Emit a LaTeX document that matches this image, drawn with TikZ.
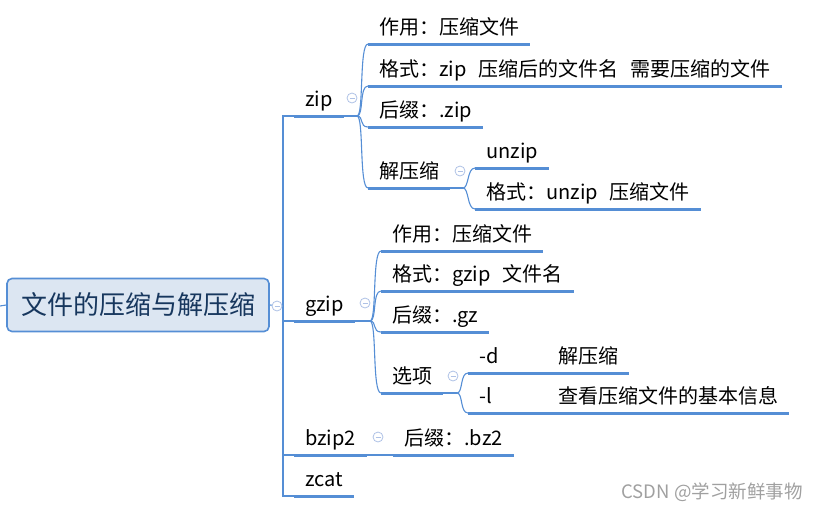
\documentclass[tikz,border=0pt]{standalone}
\usepackage{fontspec}
\setmainfont{Noto Sans CJK SC}
\definecolor{linec}{HTML}{558ED5}
\definecolor{rootfill}{HTML}{DCE6F2}
\definecolor{roottext}{HTML}{17375E}
\definecolor{foldc}{HTML}{AFC2E6}
\definecolor{markc}{HTML}{A0A0A0}

\begin{document}
\begin{tikzpicture}[x=1pt,y=-1pt]

\tikzstyle{topic}=[anchor=south west,inner xsep=11pt,inner ysep=3pt,text height=15pt,text depth=6pt,font=\fontsize{20}{24}\selectfont]
\tikzstyle{root}=[rectangle,rounded corners=5pt,draw=linec,line width=1.6pt,fill=rootfill,text=roottext,minimum width=262pt,minimum height=53pt,font=\fontsize{26}{30}\selectfont]
\tikzstyle{link}=[linec,line width=1.1pt]
\tikzstyle{uline}=[linec,line width=3pt]
\tikzstyle{fold}=[circle,draw=foldc,fill=white,line width=0.8pt,minimum size=10pt,inner sep=0pt,
  path picture={\draw[foldc,line width=0.8pt] ([xshift=-2.5pt]path picture bounding box.center) -- ([xshift=2.5pt]path picture bounding box.center);}]
\tikzstyle{wmark}=[text=markc,font=\fontsize{18.5}{22}\selectfont]

\useasboundingbox (0,0) rectangle (822,512);

% root
\node[root] (root) at (138,305) {文件的压缩与解压缩} ;

% first level
\node[topic] (zip)    at (294,116) {zip} ;
\node[topic] (gzip)   at (294,321) {gzip} ;
\node[topic] (bzipii) at (294,455) {bzip2} ;
\node[topic] (zcat)   at (294,496) {zcat} ;

% zip
\node[topic] (zipuse)   at (368, 44) {作用：压缩文件} ;
\node[topic] (zipfmt)   at (368, 86) {格式：zip\hspace{0.6em}压缩后的文件名\hspace{0.6em}需要压缩的文件} ;
\node[topic] (zipsuf)   at (368,127) {后缀：.zip} ;
\node[topic] (zipun)    at (368,188) {解压缩} ;
\node[topic] (unzip)    at (475,168) {unzip} ;
\node[topic] (unzipfmt) at (475,209) {格式：unzip\hspace{0.6em}压缩文件} ;

% gzip
\node[topic] (gzuse)  at (381,251) {作用：压缩文件} ;
\node[topic] (gzfmt)  at (381,291) {格式：gzip\hspace{0.6em}文件名} ;
\node[topic] (gzsuf)  at (381,332) {后缀：.gz} ;
\node[topic] (gzopt)  at (381,393) {选项} ;
\node[topic] (optd)   at (468,373) {\makebox[79pt][l]{-d}解压缩} ;
\node[topic] (optl)   at (468,413) {\makebox[79pt][l]{-l}查看压缩文件的基本信息} ;

% bzip2
\node[topic] (bzsuf)  at (393,455) {后缀：.bz2} ;

% underlines
\foreach \n in {zip,gzip,bzipii,zcat,zipuse,zipfmt,zipsuf,zipun,unzip,unzipfmt,gzuse,gzfmt,gzsuf,gzopt,optd,optl,bzsuf}
  \draw[uline] (\n.south west) -- (\n.south east);

% trunk
\coordinate (stub)  at (0,306) ;
\coordinate (trunk) at (283,306) ;
\draw[link] (stub) -- (root.west);
\draw[link] (root.east) -- (trunk);
\draw[link] (zip.south west) -| (trunk) |- (zcat.south west);
\draw[link] (trunk |- gzip.south west) -- (gzip.south west);
\draw[link] (trunk |- bzipii.south west) -- (bzipii.south west);

% forks
\coordinate (zipfork) at (357,116) ;
\coordinate (unfork)  at (463,188) ;
\coordinate (gzfork)  at (370,321) ;
\coordinate (optfork) at (457,393) ;
\draw[link] (zip.south east) -- (zipfork);
\draw[link] (zipun.south east) -- (unfork);
\draw[link] (gzip.south east) -- (gzfork);
\draw[link] (gzopt.south east) -- (optfork);
\draw[link] (bzipii.south east) -- (bzsuf.south west);

\foreach \c in {zipuse,zipfmt,zipsuf,zipun}
  \draw[link] (zipfork) .. controls +(7,0) and +(-9,0) .. (\c.south west);
\foreach \c in {unzip,unzipfmt}
  \draw[link] (unfork) .. controls +(6,0) and +(-8,0) .. (\c.south west);
\foreach \c in {gzuse,gzfmt,gzsuf,gzopt}
  \draw[link] (gzfork) .. controls +(7,0) and +(-9,0) .. (\c.south west);
\foreach \c in {optd,optl}
  \draw[link] (optfork) .. controls +(6,0) and +(-8,0) .. (\c.south west);

% fold icons
\node[fold] (rootfold) at (277,306) {} ;
\node[fold] (zipfold)  at (352, 98) {} ;
\node[fold] (unfold)   at (460,171) {} ;
\node[fold] (gzfold)   at (365,303) {} ;
\node[fold] (optfold)  at (453,376) {} ;
\node[fold] (bzfold)   at (378,437) {} ;

% watermark
\node[wmark] (mark) at (712,492) {CSDN @学习新鲜事物} ;

\end{tikzpicture}
\end{document}
